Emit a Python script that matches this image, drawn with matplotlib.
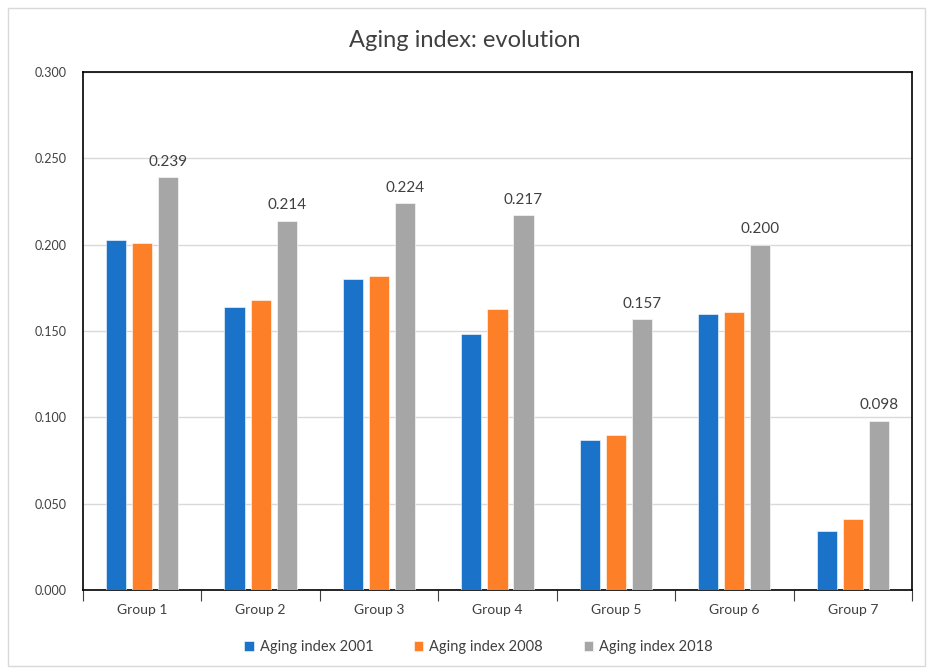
import numpy as np
import matplotlib.pyplot as plt
from matplotlib.patches import Rectangle

plt.rcParams['font.family'] = ['Lato', 'DejaVu Sans']

groups = ['Group 1', 'Group 2', 'Group 3', 'Group 4', 'Group 5', 'Group 6', 'Group 7']
aging_2001 = [0.203, 0.164, 0.180, 0.148, 0.087, 0.160, 0.034]
aging_2008 = [0.201, 0.168, 0.182, 0.163, 0.090, 0.161, 0.041]
aging_2018 = [0.239, 0.214, 0.224, 0.217, 0.157, 0.200, 0.098]
series_names = ['Aging index 2001', 'Aging index 2008', 'Aging index 2018']
colors = ['#1A73C9', '#FD7F27', '#A6A6A6']
text_col = '#404040'

fig = plt.figure(figsize=(9.29, 6.70), dpi=100)
ax = fig.add_axes([0.0893, 0.1194, 0.8924, 0.7731])

# thin light frame around the chart area
fig.patches.append(Rectangle((8 / 929, 4 / 670), 917 / 929, 658 / 670,
                             transform=fig.transFigure, fill=False,
                             edgecolor='#D9D9D9', lw=1))

x = np.arange(len(groups))
width = 0.17
step = 0.22
for i, (vals, name, c) in enumerate(zip([aging_2001, aging_2008, aging_2018],
                                        series_names, colors)):
    ax.bar(x + (i - 1) * step, vals, width, color=c, label=name,
           edgecolor='white', linewidth=0.4, zorder=3)

for xi, v in zip(x, aging_2018):
    ax.annotate(f'{v:.3f}', (xi + step, v), xytext=(0, 6),
                textcoords='offset points', ha='center', va='bottom',
                fontsize=11, color=text_col)

ax.set_xlim(-0.5, len(groups) - 0.5)
ax.set_ylim(0, 0.3)
ax.set_yticks(np.arange(0, 0.301, 0.05))
ax.set_yticklabels([f'{t:.3f}' for t in np.arange(0, 0.301, 0.05)])
ax.yaxis.grid(True, color='#D9D9D9', lw=1, zorder=0)
ax.tick_params(axis='y', length=0, pad=12, labelsize=9, labelcolor=text_col)

ax.set_xticks(x)
ax.set_xticklabels(groups)
ax.set_xticks(np.arange(-0.5, len(groups)), minor=True)
ax.tick_params(axis='x', which='major', length=0, pad=10, labelsize=10,
               labelcolor=text_col)
ax.tick_params(axis='x', which='minor', length=8, width=0.8, direction='out',
               color='#404040')

for s in ax.spines.values():
    s.set_color('black')
    s.set_linewidth(1.2)

fig.text(0.5, 0.94, 'Aging index: evolution', ha='center', va='center',
         fontsize=17, color=text_col)

fig.legend(loc='center', bbox_to_anchor=(0.515, 0.034), ncol=3, frameon=False,
           fontsize=10.5, handlelength=0.65, handleheight=0.65, handletextpad=0.4,
           columnspacing=2.8, labelcolor=text_col)

fig.savefig('out.png', dpi=100)
